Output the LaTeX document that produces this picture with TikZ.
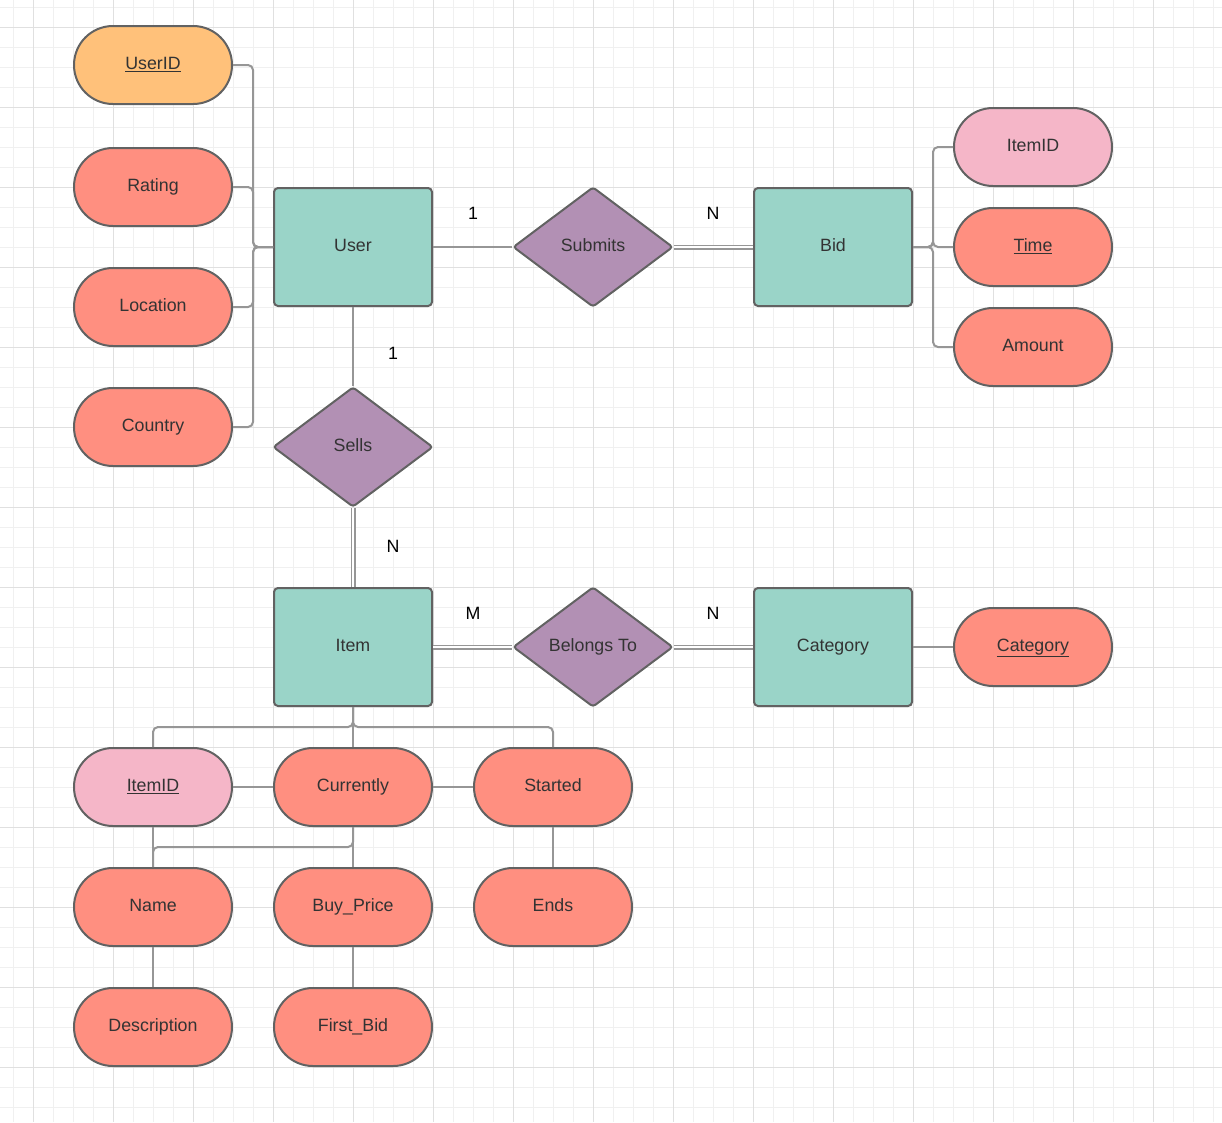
\documentclass[tikz,border=0pt]{standalone}
\usepackage{fontspec}
\setmainfont{Liberation Sans}
\usetikzlibrary{shapes.geometric}
\definecolor{salmon}{RGB}{255,143,128}
\definecolor{orangeattr}{RGB}{255,193,122}
\definecolor{pinkattr}{RGB}{245,182,200}
\definecolor{tealent}{RGB}{154,212,200}
\definecolor{purprel}{RGB}{178,144,180}
\definecolor{bordc}{RGB}{98,98,98}
\definecolor{linec}{RGB}{150,150,150}
\definecolor{txtc}{RGB}{51,51,51}
\definecolor{gridminor}{RGB}{240,240,240}
\definecolor{gridmajor}{RGB}{224,224,224}
\tikzset{
  lbl/.style={font=\fontsize{17.8}{20}\selectfont, text=txtc, text height=12.5pt, text depth=4pt},
  attr/.style={lbl, draw=bordc, line width=2pt, rounded corners=39pt, minimum width=158pt, minimum height=78pt, fill=salmon, inner sep=0pt},
  entity/.style={lbl, draw=bordc, line width=2pt, rounded corners=4pt, minimum width=158pt, minimum height=118pt, fill=tealent, inner sep=0pt},
  rel/.style={lbl, diamond, draw=bordc, line width=2pt, rounded corners=3pt, minimum width=160pt, minimum height=120pt, fill=purprel, inner sep=0pt},
  conn/.style={draw=linec, line width=2pt, rounded corners=5pt},
  dbl/.style={draw=linec, line width=1.5pt, double=white, double distance=2pt},
  card/.style={font=\fontsize{17.8}{20}\selectfont, text=black, text height=12.5pt, text depth=4pt},
}
\begin{document}
\begin{tikzpicture}[x=1pt,y=-1pt]
\useasboundingbox (0,0) rectangle (1222,1122);
\fill[white] (0,0) rectangle (1222,1122);
% grid
\foreach \v in {13,33,...,1213} \draw[gridminor, line width=1pt] (\v,0) -- (\v,1122);
\foreach \v in {7,27,...,1117} \draw[gridminor, line width=1pt] (0,\v) -- (1222,\v);
\foreach \v in {33,113,...,1193} \draw[gridmajor, line width=1pt] (\v,0) -- (\v,1122);
\foreach \v in {27,107,...,1107} \draw[gridmajor, line width=1pt] (0,\v) -- (1222,\v);

% entities
\node[entity] (user) at (353,247) {User};
\node[entity] (bid) at (833,247) {Bid};
\node[entity] (item) at (353,647) {Item};
\node[entity] (cat) at (833,647) {Category};
% relationships
\node[rel] (submits) at (593,247) {Submits};
\node[rel] (sells) at (353,447) {Sells};
\node[rel] (belongs) at (593,647) {Belongs To};
% user attributes
\node[attr, fill=orangeattr] (userid) at (153,65) {\underline{UserID}};
\node[attr] (rating) at (153,187) {Rating};
\node[attr] (location) at (153,307) {Location};
\node[attr] (country) at (153,427) {Country};
% bid attributes
\node[attr, fill=pinkattr] (biditemid) at (1033,147) {ItemID};
\node[attr] (time) at (1033,247) {\underline{Time}};
\node[attr] (amount) at (1033,347) {Amount};
% category attribute
\node[attr] (catname) at (1033,647) {\underline{Category}};
% item attributes
\node[attr, fill=pinkattr] (itemid) at (153,787) {\underline{ItemID}};
\node[attr] (currently) at (353,787) {Currently};
\node[attr] (started) at (553,787) {Started};
\node[attr] (name) at (153,907) {Name};
\node[attr] (buyprice) at (353,907) {Buy\_Price};
\node[attr] (ends) at (553,907) {Ends};
\node[attr] (descr) at (153,1027) {Description};
\node[attr] (firstbid) at (353,1027) {First\_Bid};

% connectors: user attributes
\draw[conn] (userid.east) -- ++(20,0) |- (user.west);
\draw[conn] (rating.east) -- ++(20,0) |- (user.west);
\draw[conn] (location.east) -- ++(20,0) |- (user.west);
\draw[conn] (country.east) -- ++(20,0) |- (user.west);
% bid attributes
\draw[conn] (bid.east) -- ++(20,0) |- (biditemid.west);
\draw[conn] (bid.east) -- ++(20,0) |- (time.west);
\draw[conn] (bid.east) -- ++(20,0) |- (amount.west);
% relationships
\draw[conn] (user.east) -- (submits.west);
\draw[dbl] (submits.east) -- (bid.west);
\draw[conn] (user.south) -- (sells.north);
\draw[dbl] (sells.south) -- (item.north);
\draw[dbl] (item.east) -- (belongs.west);
\draw[dbl] (belongs.east) -- (cat.west);
\draw[conn] (cat.east) -- (catname.west);
% item attributes
\draw[conn] (item.south) -- ++(0,20) -| (itemid.north);
\draw[conn] (item.south) -- (currently.north);
\draw[conn] (item.south) -- ++(0,20) -| (started.north);
\draw[conn] (itemid.east) -- (currently.west);
\draw[conn] (currently.east) -- (started.west);
\draw[conn] (itemid.south) -- (name.north);
\draw[conn] (currently.south) -- ++(0,20) -| (name.north);
\draw[conn] (currently.south) -- (buyprice.north);
\draw[conn] (started.south) -- (ends.north);
\draw[conn] (name.south) -- (descr.north);
\draw[conn] (buyprice.south) -- (firstbid.north);

% cardinalities
\node[card] (c1) at (473,215) {1};
\node[card] (c2) at (713,215) {N};
\node[card] (c3) at (393,355) {1};
\node[card] (c4) at (393,548) {N};
\node[card] (c5) at (473,615) {M};
\node[card] (c6) at (713,615) {N};
\end{tikzpicture}
\end{document}
